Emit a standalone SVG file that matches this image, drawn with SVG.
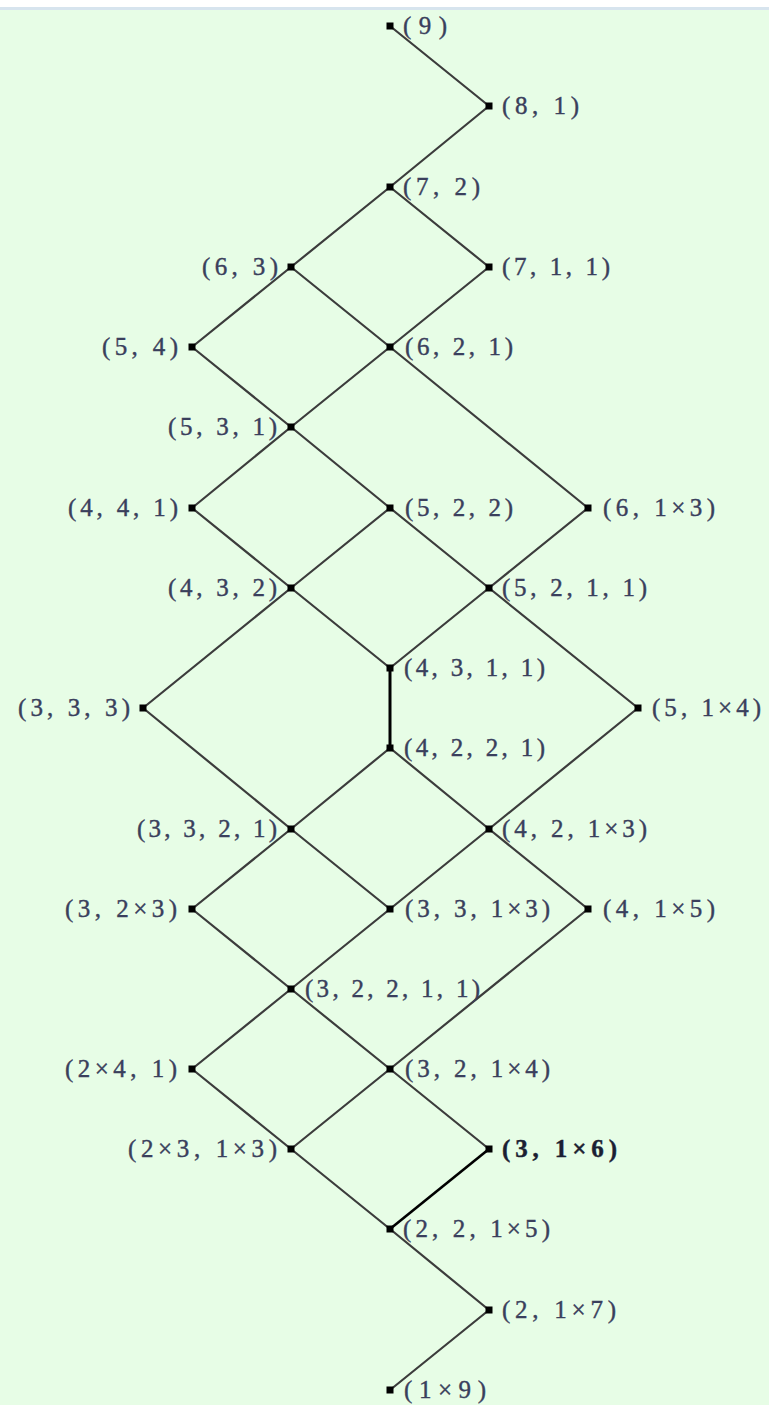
<svg xmlns="http://www.w3.org/2000/svg" width="769" height="1405" viewBox="0 0 769 1405">
<style>
.e{stroke:#3c3c3c;stroke-width:2.2;fill:none;stroke-linecap:round}
.b{stroke:#000;stroke-width:3;fill:none}
.d{fill:#000}
text{font-family:"Liberation Serif","DejaVu Serif",serif;font-size:25px;fill:#3a3f5c;stroke:#3a3f5c;stroke-width:0.4}
.bold{font-weight:bold;fill:#1c1f33;stroke:#1c1f33}
</style>
<rect x="0" y="0" width="769" height="1405" fill="#e7fde6"/>
<rect x="0" y="0" width="769" height="7" fill="#ffffff"/>
<rect x="0" y="7" width="769" height="3" fill="#d7e4ee"/>
<g id="connectors">
<line class="e" x1="390" y1="26" x2="489" y2="106"/>
<line class="e" x1="489" y1="106" x2="390" y2="187"/>
<line class="e" x1="390" y1="187" x2="291" y2="267"/>
<line class="e" x1="390" y1="187" x2="489" y2="267"/>
<line class="e" x1="291" y1="267" x2="192" y2="347"/>
<line class="e" x1="291" y1="267" x2="390" y2="347"/>
<line class="e" x1="489" y1="267" x2="390" y2="347"/>
<line class="e" x1="192" y1="347" x2="291" y2="427"/>
<line class="e" x1="390" y1="347" x2="291" y2="427"/>
<line class="e" x1="390" y1="347" x2="588" y2="508"/>
<line class="e" x1="291" y1="427" x2="192" y2="508"/>
<line class="e" x1="291" y1="427" x2="390" y2="508"/>
<line class="e" x1="192" y1="508" x2="291" y2="588"/>
<line class="e" x1="390" y1="508" x2="291" y2="588"/>
<line class="e" x1="390" y1="508" x2="489" y2="588"/>
<line class="e" x1="588" y1="508" x2="489" y2="588"/>
<line class="e" x1="291" y1="588" x2="143" y2="708"/>
<line class="e" x1="291" y1="588" x2="390" y2="668"/>
<line class="e" x1="489" y1="588" x2="390" y2="668"/>
<line class="e" x1="489" y1="588" x2="638" y2="708"/>
<line class="b" x1="390" y1="668" x2="390" y2="748"/>
<line class="e" x1="143" y1="708" x2="291" y2="829"/>
<line class="e" x1="390" y1="748" x2="291" y2="829"/>
<line class="e" x1="390" y1="748" x2="489" y2="829"/>
<line class="e" x1="638" y1="708" x2="489" y2="829"/>
<line class="e" x1="291" y1="829" x2="192" y2="909"/>
<line class="e" x1="291" y1="829" x2="390" y2="909"/>
<line class="e" x1="489" y1="829" x2="390" y2="909"/>
<line class="e" x1="489" y1="829" x2="588" y2="909"/>
<line class="e" x1="192" y1="909" x2="291" y2="989"/>
<line class="e" x1="390" y1="909" x2="291" y2="989"/>
<line class="e" x1="588" y1="909" x2="390" y2="1069"/>
<line class="e" x1="291" y1="989" x2="192" y2="1069"/>
<line class="e" x1="291" y1="989" x2="390" y2="1069"/>
<line class="e" x1="192" y1="1069" x2="291" y2="1149"/>
<line class="e" x1="390" y1="1069" x2="291" y2="1149"/>
<line class="e" x1="390" y1="1069" x2="489" y2="1149"/>
<line class="e" x1="291" y1="1149" x2="390" y2="1229"/>
<line class="b" x1="489" y1="1149" x2="390" y2="1229" style="stroke-width:2.6"/>
<line class="e" x1="390" y1="1229" x2="489" y2="1310"/>
<line class="e" x1="489" y1="1310" x2="390" y2="1390"/>
</g>
<g id="n9"><rect class="d" x="386.5" y="22.5" width="7" height="7"/><text x="403" y="34" textLength="44" lengthAdjust="spacing">(9)</text></g>
<g id="n81"><rect class="d" x="485.5" y="102.5" width="7" height="7"/><text x="502" y="114" textLength="77" lengthAdjust="spacing">(8, 1)</text></g>
<g id="n72"><rect class="d" x="386.5" y="183.5" width="7" height="7"/><text x="403" y="195" textLength="77" lengthAdjust="spacing">(7, 2)</text></g>
<g id="n63"><rect class="d" x="287.5" y="263.5" width="7" height="7"/><text x="202" y="275" textLength="76" lengthAdjust="spacing">(6, 3)</text></g>
<g id="n711"><rect class="d" x="485.5" y="263.5" width="7" height="7"/><text x="502" y="275" textLength="108" lengthAdjust="spacing">(7, 1, 1)</text></g>
<g id="n54"><rect class="d" x="188.5" y="343.5" width="7" height="7"/><text x="102" y="355" textLength="76" lengthAdjust="spacing">(5, 4)</text></g>
<g id="n621"><rect class="d" x="386.5" y="343.5" width="7" height="7"/><text x="405" y="355" textLength="108" lengthAdjust="spacing">(6, 2, 1)</text></g>
<g id="n531"><rect class="d" x="287.5" y="423.5" width="7" height="7"/><text x="168" y="435" textLength="109" lengthAdjust="spacing">(5, 3, 1)</text></g>
<g id="n441"><rect class="d" x="188.5" y="504.5" width="7" height="7"/><text x="68" y="516" textLength="110" lengthAdjust="spacing">(4, 4, 1)</text></g>
<g id="n522"><rect class="d" x="386.5" y="504.5" width="7" height="7"/><text x="405" y="516" textLength="108" lengthAdjust="spacing">(5, 2, 2)</text></g>
<g id="n6111"><rect class="d" x="584.5" y="504.5" width="7" height="7"/><text x="603" y="516" textLength="112" lengthAdjust="spacing">(6, 1×3)</text></g>
<g id="n432"><rect class="d" x="287.5" y="584.5" width="7" height="7"/><text x="168" y="596" textLength="109" lengthAdjust="spacing">(4, 3, 2)</text></g>
<g id="n5211"><rect class="d" x="485.5" y="584.5" width="7" height="7"/><text x="502" y="596" textLength="145" lengthAdjust="spacing">(5, 2, 1, 1)</text></g>
<g id="n4311"><rect class="d" x="386.5" y="664.5" width="7" height="7"/><text x="404" y="676" textLength="141" lengthAdjust="spacing">(4, 3, 1, 1)</text></g>
<g id="n333"><rect class="d" x="139.5" y="704.5" width="7" height="7"/><text x="18" y="716" textLength="112" lengthAdjust="spacing">(3, 3, 3)</text></g>
<g id="n51111"><rect class="d" x="634.5" y="704.5" width="7" height="7"/><text x="652" y="716" textLength="109" lengthAdjust="spacing">(5, 1×4)</text></g>
<g id="n4221"><rect class="d" x="386.5" y="744.5" width="7" height="7"/><text x="404" y="756" textLength="141" lengthAdjust="spacing">(4, 2, 2, 1)</text></g>
<g id="n3321"><rect class="d" x="287.5" y="825.5" width="7" height="7"/><text x="137" y="837" textLength="140" lengthAdjust="spacing">(3, 3, 2, 1)</text></g>
<g id="n42111"><rect class="d" x="485.5" y="825.5" width="7" height="7"/><text x="502" y="837" textLength="145" lengthAdjust="spacing">(4, 2, 1×3)</text></g>
<g id="n3222"><rect class="d" x="188.5" y="905.5" width="7" height="7"/><text x="65" y="917" textLength="112" lengthAdjust="spacing">(3, 2×3)</text></g>
<g id="n33111"><rect class="d" x="386.5" y="905.5" width="7" height="7"/><text x="405" y="917" textLength="145" lengthAdjust="spacing">(3, 3, 1×3)</text></g>
<g id="n411111"><rect class="d" x="584.5" y="905.5" width="7" height="7"/><text x="603" y="917" textLength="112" lengthAdjust="spacing">(4, 1×5)</text></g>
<g id="n32211"><rect class="d" x="287.5" y="985.5" width="7" height="7"/><text x="305" y="997" textLength="175" lengthAdjust="spacing">(3, 2, 2, 1, 1)</text></g>
<g id="n22221"><rect class="d" x="188.5" y="1065.5" width="7" height="7"/><text x="65" y="1077" textLength="112" lengthAdjust="spacing">(2×4, 1)</text></g>
<g id="n321111"><rect class="d" x="386.5" y="1065.5" width="7" height="7"/><text x="405" y="1077" textLength="145" lengthAdjust="spacing">(3, 2, 1×4)</text></g>
<g id="n222111"><rect class="d" x="287.5" y="1145.5" width="7" height="7"/><text x="128" y="1157" textLength="149" lengthAdjust="spacing">(2×3, 1×3)</text></g>
<g id="n3111111"><rect class="d" x="485.5" y="1145.5" width="7" height="7"/><text class="bold" x="502" y="1157" textLength="115" lengthAdjust="spacing">(3, 1×6)</text></g>
<g id="n2211111"><rect class="d" x="386.5" y="1225.5" width="7" height="7"/><text x="403" y="1237" textLength="147" lengthAdjust="spacing">(2, 2, 1×5)</text></g>
<g id="n21111111"><rect class="d" x="485.5" y="1306.5" width="7" height="7"/><text x="502" y="1318" textLength="114" lengthAdjust="spacing">(2, 1×7)</text></g>
<g id="n111111111"><rect class="d" x="386.5" y="1386.5" width="7" height="7"/><text x="404" y="1398" textLength="82" lengthAdjust="spacing">(1×9)</text></g>
</svg>
